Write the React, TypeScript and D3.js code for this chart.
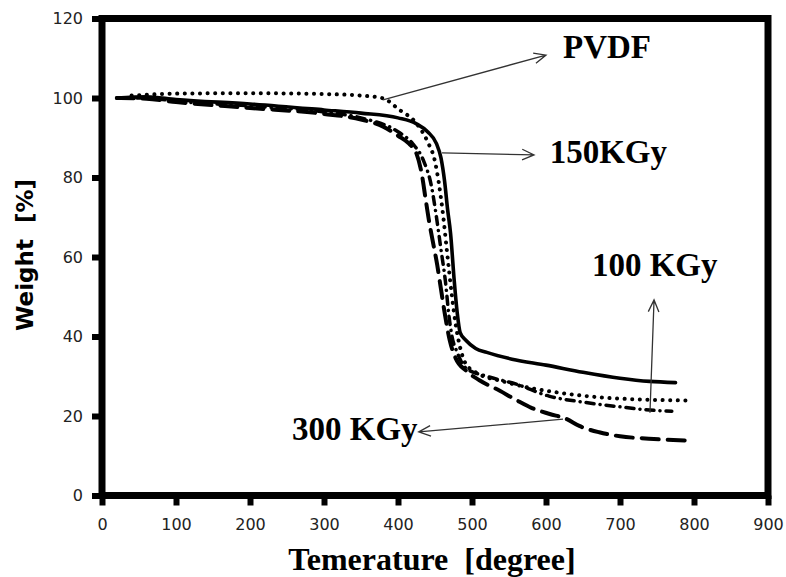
import React, { useEffect, useRef } from "react";
import * as d3 from "d3";

const W = 786;
const H = 577;

const xTicks = [0, 100, 200, 300, 400, 500, 600, 700, 800, 900];
const yTicks = [0, 20, 40, 60, 80, 100, 120];

// [temperature, weight%]
const pvdf: [number, number][] = [
  [40, 100.6], [100, 101.1], [200, 101.2], [300, 101], [350, 100.6], [380, 99.9],
  [402, 97], [425, 93.6], [440, 89], [450, 84], [460, 72], [467, 60], [473, 50],
  [478, 43], [483, 38], [492, 33], [510, 30.5], [540, 28.8], [580, 27], [620, 25.8],
  [672, 24.7], [720, 24.2], [795, 23.9],
];
const kgy150: [number, number][] = [
  [20, 100], [60, 100.3], [100, 99.6], [200, 98.5], [300, 97], [350, 96.2],
  [400, 95], [425, 93.5], [440, 91.5], [452, 88.5], [458, 85], [463, 79], [467, 72],
  [471, 66], [476, 54], [480, 46], [484, 41], [492, 39], [505, 37], [520, 36],
  [554, 34.3], [600, 32.8], [650, 31], [700, 29.5], [740, 28.7], [775, 28.4],
];
const kgy100: [number, number][] = [
  [20, 100], [60, 100], [100, 99.2], [200, 98], [300, 96.5], [350, 95], [400, 91.5],
  [420, 88.5], [435, 84], [445, 78], [452, 70], [458, 62], [464, 54], [469, 45],
  [473, 40], [480, 36], [492, 32], [520, 30], [560, 28], [604, 25], [650, 23.5],
  [700, 22.3], [740, 21.5], [770, 21.2],
];
const kgy300: [number, number][] = [
  [20, 100], [60, 99.8], [100, 99], [200, 97.5], [300, 96], [350, 94.6], [380, 92.8],
  [400, 90.5], [415, 88.5], [425, 86], [432, 81], [437, 75], [442, 69], [448, 63],
  [453, 58], [458, 52], [463, 46], [470, 39], [478, 34.5], [492, 31.4], [510, 29],
  [537, 26.4], [560, 24], [581, 22], [605, 20.5], [627, 19.3], [645, 17.5], [672, 15.9],
  [700, 14.9], [739, 14.3], [797, 13.8],
];

const seriesNames = ["PVDF", "150KGy", "100 KGy", "300 KGy"];

// annotations in data coords: arrow from -> to, label position
const arrows = [
  { from: [379.7, 99.5], to: [600, 110.8], label: seriesNames[0], at: [623, 110.1] },
  { from: [459.5, 86.2], to: [583.8, 85.7], label: seriesNames[1], at: [605, 83.6] },
  { from: [740.5, 20.8], to: [746, 49.2], label: seriesNames[2], at: [662, 55.2] },
  { from: [623, 19.2], to: [428, 16.0], label: seriesNames[3], at: [256.8, 14] },
];

export default function App() {
  const ref = useRef<SVGSVGElement>(null);

  useEffect(() => {
    const svg = d3.select(ref.current!);
    svg.selectAll("*").remove();

    const x = d3.scaleLinear().domain([0, 900]).range([102, 768]);
    const y = d3.scaleLinear().domain([0, 120]).range([495.5, 18.5]);

    svg.append("rect").attr("width", W).attr("height", H).attr("fill", "#fff");

    // axes
    const yAxis = d3.axisLeft(y).tickValues(yTicks).tickSize(10).tickPadding(9).tickSizeOuter(0);
    const gy = svg.append("g").attr("transform", `translate(${x(0)},0)`).call(yAxis);
    const xAxis = d3.axisBottom(x).tickValues(xTicks).tickSize(10).tickPadding(13).tickSizeOuter(0);
    const gx = svg.append("g").attr("transform", `translate(0,${y(0)})`).call(xAxis);
    [gx, gy].forEach((g) => {
      g.select(".domain").remove();
      g.selectAll(".tick line").style("stroke", "#000").style("stroke-width", "6px");
      g.selectAll(".tick text")
        .attr("fill", "#222")
        .attr("font-family", "DejaVu Sans, Verdana, sans-serif")
        .attr("font-size", 16);
    });

    // frame
    svg
      .append("rect")
      .attr("x", x(0))
      .attr("y", y(120))
      .attr("width", x(900) - x(0))
      .attr("height", y(0) - y(120))
      .style("fill", "none")
      .style("stroke", "#000")
      .style("stroke-width", "7px");

    const line = d3
      .line<[number, number]>()
      .x((d) => x(d[0]))
      .y((d) => y(d[1]))
      .curve(d3.curveMonotoneX);

    const styles = [
      { data: pvdf, dash: "0.1 7.5", w: 4, cap: "round" },
      { data: kgy150, dash: null, w: 3.6, cap: "round" },
      { data: kgy100, dash: "8 6 0.1 6", w: 3.5, cap: "round" },
      { data: kgy300, dash: "17 9", w: 4, cap: "round" },
    ];
    styles.forEach((s) => {
      const p = svg
        .append("path")
        .attr("d", line(s.data)!)
        .attr("fill", "none")
        .attr("stroke", "#000")
        .attr("stroke-width", s.w)
        .attr("stroke-linecap", s.cap)
        .attr("stroke-linejoin", "round");
      if (s.dash) p.attr("stroke-dasharray", s.dash);
    });

    // arrows + labels
    arrows.forEach((a) => {
      const x1 = x(a.from[0]), y1 = y(a.from[1]);
      const x2 = x(a.to[0]), y2 = y(a.to[1]);
      const ang = Math.atan2(y2 - y1, x2 - x1);
      const len = 13;
      const spread = 0.42;
      const h1 = [x2 - len * Math.cos(ang - spread), y2 - len * Math.sin(ang - spread)];
      const h2 = [x2 - len * Math.cos(ang + spread), y2 - len * Math.sin(ang + spread)];
      svg
        .append("path")
        .attr("d", `M${x1},${y1}L${x2},${y2}M${h1[0]},${h1[1]}L${x2},${y2}L${h2[0]},${h2[1]}`)
        .attr("fill", "none")
        .attr("stroke", "#333")
        .attr("stroke-width", 1.3);
      svg
        .append("text")
        .attr("x", x(a.at[0]))
        .attr("y", y(a.at[1]))
        .attr("font-family", "Liberation Serif, Times New Roman, serif")
        .attr("font-weight", "bold")
        .attr("font-size", 33)
        .attr("fill", "#000")
        .text(a.label);
    });

    // axis titles
    svg
      .append("text")
      .attr("x", 432)
      .attr("y", 570)
      .attr("text-anchor", "middle")
      .attr("font-family", "Liberation Serif, Times New Roman, serif")
      .attr("font-weight", "bold")
      .attr("font-size", 32)
      .style("white-space", "pre")
      .text("Temerature  [degree]");

    svg
      .append("text")
      .attr("transform", "translate(33,255) rotate(-90)")
      .attr("text-anchor", "middle")
      .attr("font-family", "DejaVu Sans, Verdana, sans-serif")
      .attr("font-weight", "bold")
      .attr("font-size", 23)
      .style("white-space", "pre")
      .text("Weight  [%]");
  }, []);

  return (
    <div style={{ position: "absolute", left: 0, top: 0 }}>
      <svg ref={ref} width={W} height={H} style={{ display: "block" }} />
    </div>
  );
}
